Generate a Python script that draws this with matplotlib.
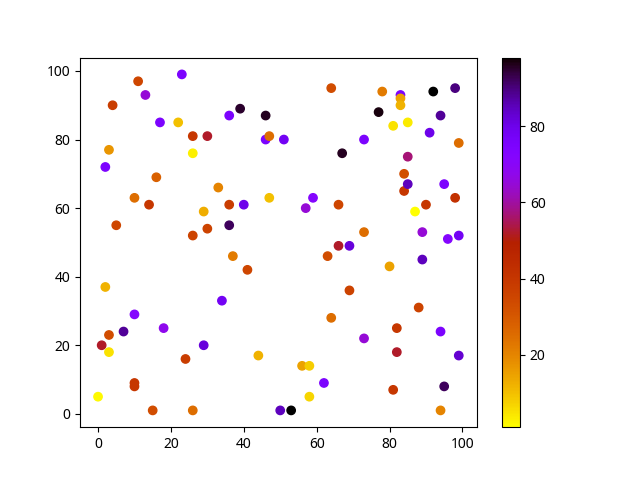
import matplotlib.pyplot as plt

plt.rcParams['font.family'] = ['Noto Sans', 'DejaVu Sans']

xs = [0, 1, 2, 2, 3, 3, 3, 4, 5, 7,
      10, 10, 10, 10, 11, 13, 14, 15, 16, 17,
      18, 22, 23, 24, 26, 26, 26, 26, 29, 29,
      30, 30, 33, 34, 36, 36, 36, 37, 39, 40,
      41, 44, 46, 46, 47, 47, 50, 51, 53, 56,
      57, 58, 58, 59, 62, 63, 64, 64, 66, 66,
      67, 69, 69, 73, 73, 73, 78, 77, 80, 81,
      81, 82, 82, 83, 83, 83, 84, 84, 85, 85,
      85, 87, 88, 89, 89, 90, 91, 92, 94, 94,
      94, 95, 95, 96, 98, 98, 99, 99, 99]
ys = [5, 20, 72, 37, 77, 23, 18, 90, 55, 24,
      63, 29, 9, 8, 97, 93, 61, 1, 69, 85,
      25, 85, 99, 16, 81, 76, 52, 1, 59, 20,
      81, 54, 66, 33, 87, 61, 55, 46, 89, 61,
      42, 17, 87, 80, 81, 63, 1, 80, 1, 14,
      60, 14, 5, 63, 9, 46, 95, 28, 61, 49,
      76, 49, 36, 80, 53, 22, 94, 88, 43, 84,
      7, 25, 18, 93, 92, 90, 70, 65, 85, 75,
      67, 59, 31, 53, 45, 61, 82, 94, 87, 24,
      1, 67, 8, 51, 95, 63, 79, 52, 17]
cs = [2, 52, 75, 12, 17, 33, 5, 38, 35, 88,
      25, 72, 40, 40, 35, 65, 40, 33, 28, 75,
      68, 10, 75, 38, 40, 3, 36, 25, 13, 82,
      52, 36, 20, 78, 75, 38, 92, 22, 95, 80,
      35, 12, 96, 75, 25, 10, 85, 78, 98, 15,
      65, 8, 7, 72, 75, 33, 33, 25, 35, 52,
      96, 82, 36, 75, 25, 65, 22, 97, 15, 5,
      40, 40, 52, 75, 15, 12, 33, 40, 4, 57,
      85, 1, 36, 65, 85, 40, 80, 98, 88, 75,
      20, 75, 92, 72, 90, 42, 25, 78, 83]

fig, ax = plt.subplots()
sc = ax.scatter(xs, ys, c=cs, cmap='gnuplot_r')
fig.colorbar(sc)
plt.savefig('out.png')
